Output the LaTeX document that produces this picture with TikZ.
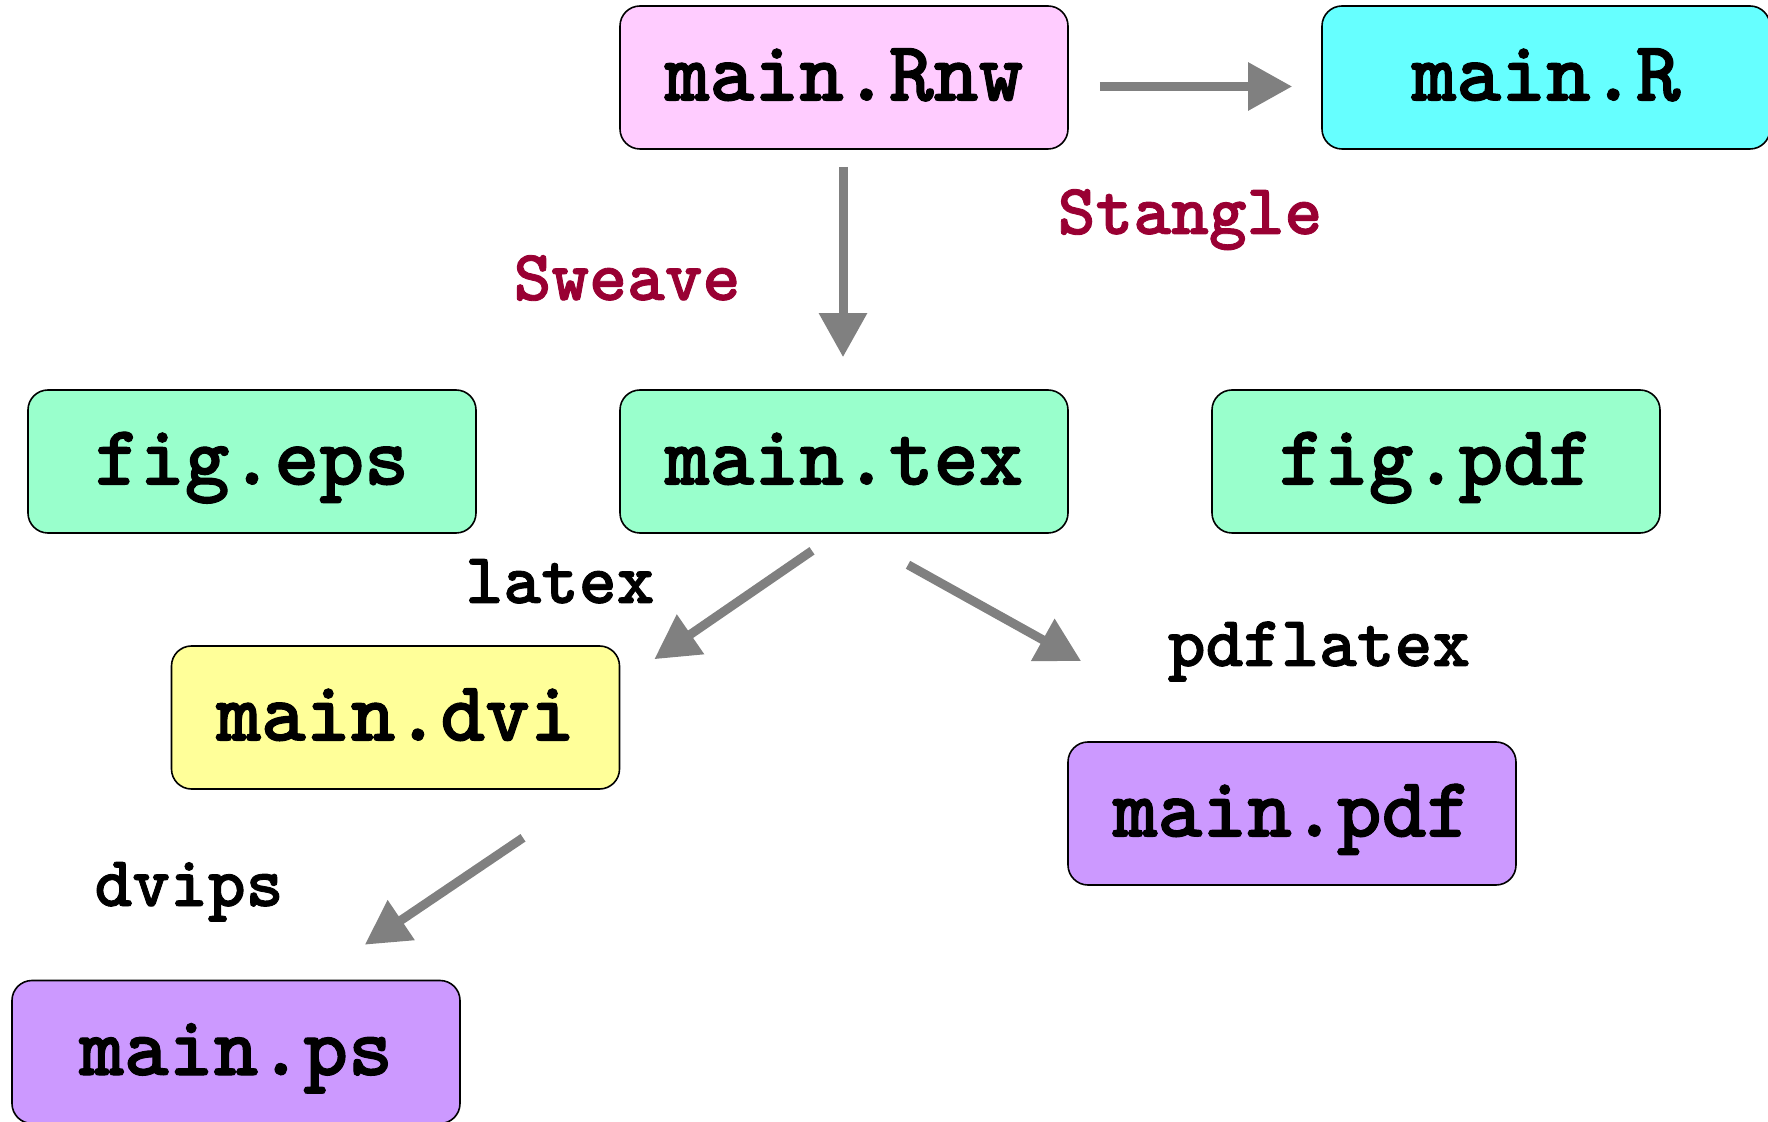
\documentclass[tikz,border=0pt]{standalone}
\usepackage{fontspec}
\newfontfamily\heavymono[FakeBold=1.2]{lmmonolt10-bold.otf}
\usetikzlibrary{arrows.meta,calc}
\definecolor{rnwpink}{HTML}{FFCCFF}
\definecolor{rcyan}{HTML}{66FFFF}
\definecolor{texgreen}{HTML}{99FFCC}
\definecolor{dviyellow}{HTML}{FFFF99}
\definecolor{outpurple}{HTML}{CC99FF}
\definecolor{arrowgray}{HTML}{808080}
\definecolor{toolred}{HTML}{990033}
\begin{document}
\begin{tikzpicture}[x=0.5pt,y=-0.5pt,
  filebox/.style={draw=black, line width=0.8pt, rounded corners=10pt,
    minimum width=224pt, minimum height=71.5pt, inner sep=0pt,
    font=\heavymono\fontsize{42.7}{45}\selectfont,
    text height=30pt, text depth=7pt},
  lbl/.style={font=\heavymono\fontsize{36}{38}\selectfont, anchor=base, inner sep=0pt},
  flow/.style={draw=arrowgray, line width=4.5pt, -{Triangle[width=23pt,length=22pt]}}]
\useasboundingbox (0,0) rectangle (1768,1122);

\node[filebox, fill=rnwpink] (rnw) at (844,77.5) {main.Rnw};
\node[filebox, fill=rcyan] (r) at (1546,77.5) {main.R};
\node[filebox, fill=texgreen] (eps) at (252,461.5) {fig.eps};
\node[filebox, fill=texgreen] (tex) at (844,461.5) {main.tex};
\node[filebox, fill=texgreen] (figpdf) at (1436,461.5) {fig.pdf};
\node[filebox, fill=dviyellow] (dvi) at (395.5,717.5) {main.dvi};
\node[filebox, fill=outpurple] (pdf) at (1292,813.5) {main.pdf};
\node[filebox, fill=outpurple] (ps) at (236,1052) {main.ps};

\node[lbl, text=toolred] (stangle) at (1190,234) {Stangle};
\node[lbl, text=toolred] (sweave) at (627,300) {Sweave};
\node[lbl] (latex) at (560,603) {latex};
\node[lbl] (pdflatex) at (1319,666) {pdflatex};
\node[lbl] (dvips) at (189,906) {dvips};

\draw[flow] ($(rnw.east)+(31,9)$) -- ($(r.west)+(-29,9)$);
\draw[flow] ($(rnw.south)+(-1,17)$) -- ($(tex.north)+(-1,-32)$);
\draw[flow] ($(tex.south)+(-32,17)$) -- ($(dvi.north east)+(34,14)$);
\draw[flow] ($(tex.south)+(64,31)$) -- ($(pdf.north west)+(14,-80)$);
\draw[flow] ($(dvi.south)+(127.5,48)$) -- ($(ps.north east)+(-96,-35)$);
\end{tikzpicture}
\end{document}
